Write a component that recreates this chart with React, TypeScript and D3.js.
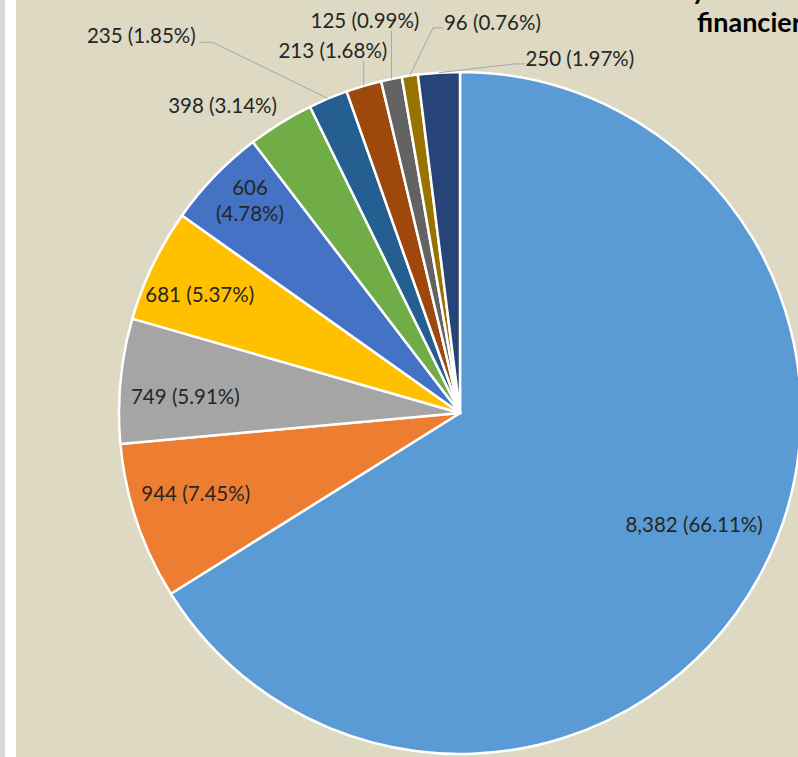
import React, { useEffect, useRef } from 'react';
import * as d3 from 'd3';

// slice values, clockwise from 12 o'clock
const values = [8382, 944, 749, 681, 606, 398, 235, 213, 125, 96, 250];
const percents = ['66.11%', '7.45%', '5.91%', '5.37%', '4.78%', '3.14%', '1.85%', '1.68%', '0.99%', '0.76%', '1.97%'];
const colors = [
  '#5B9BD5', '#ED7D31', '#A5A5A5', '#FFC000', '#4472C4', '#70AD47',
  '#255E91', '#9E480E', '#636363', '#997300', '#264478',
];

// label placement: radius factor and angle nudge (deg) from the slice middle
const labelRadius = [0.76, 0.81, 0.807, 0.839, 0.877, 1.14, 1.449, 1.128, 1.186, 1.151, 1.099];
const labelNudge = [-3.6, 1.7, -1.8, -1.2, 1.4, -5.9, -17.4, -2.9, -2.0, 13.2, 22.2];
// how the leader line leaves the label
const leader = ['', '', '', '', '', '', 'right', 'below', 'below', 'left', 'left'];

const W = 798;
const H = 757;

const App: React.FC = () => {
  const ref = useRef<SVGSVGElement>(null);

  useEffect(() => {
    if (!ref.current) return;
    const svg = d3.select(ref.current);
    svg.selectAll('*').remove();

    // frame
    svg.append('rect').attr('x', 0).attr('y', 0).attr('width', W).attr('height', H).attr('fill', '#fff');
    svg.append('rect').attr('x', 0).attr('y', 0).attr('width', 5).attr('height', H).attr('fill', '#d9d9d9');
    svg.append('rect').attr('x', 16).attr('y', 0).attr('width', W - 16).attr('height', H).attr('fill', '#DDD9C3');

    const cx = 460;
    const cy = 413;
    const R = 341;

    const pie = d3.pie<number>().sort(null).value((d) => d);
    const arcs = pie(values);
    const arc = d3.arc<d3.PieArcDatum<number>>().innerRadius(0).outerRadius(R);

    const g = svg.append('g').attr('transform', `translate(${cx},${cy})`);

    g.selectAll('path.slice')
      .data(arcs)
      .enter()
      .append('path')
      .attr('class', 'slice')
      .attr('d', arc)
      .attr('fill', (d, i) => colors[i])
      .attr('stroke', '#fff')
      .attr('stroke-width', 2.5)
      .attr('stroke-linejoin', 'round');

    const font = 'Lato, "Open Sans", sans-serif';
    const polar = (a: number, r: number): [number, number] => [Math.sin(a) * r, -Math.cos(a) * r];

    arcs.forEach((d, i) => {
      const mid = (d.startAngle + d.endAngle) / 2;
      const [lx, ly] = polar(mid + (labelNudge[i] * Math.PI) / 180, labelRadius[i] * R);
      const num = d3.format(',')(values[i]);
      const t = g
        .append('text')
        .attr('x', lx)
        .attr('y', ly)
        .attr('text-anchor', 'middle')
        .attr('dominant-baseline', 'central')
        .attr('font-family', font)
        .attr('font-size', 20.5)
        .attr('fill', '#262626');
      if (i === 4) {
        t.append('tspan').attr('x', lx).attr('dy', '-0.635em').text(num);
        t.append('tspan').attr('x', lx).attr('dy', '1.27em').text(`(${percents[i]})`);
      } else {
        t.text(`${num} (${percents[i]})`);
      }

      if (!leader[i]) return;
      const w = (t.node() as SVGTextElement).getComputedTextLength();
      const [ax, ay] = polar(mid, R);
      let pts: [number, number][] = [];
      if (leader[i] === 'right') {
        const sx = lx + w / 2 + 5;
        pts = [[sx, ly + 7], [sx + 12, ly + 7], [ax, ay]];
      } else if (leader[i] === 'left') {
        const sx = lx - w / 2 - 1;
        pts = [[sx, ly + 6], [sx - 10, ly + 6], [ax, ay]];
      } else {
        pts = [[ax, ly + 11], [ax, ay]];
      }
      g.append('path')
        .attr('d', d3.line()(pts))
        .attr('fill', 'none')
        .attr('stroke', '#a6a6a6')
        .attr('stroke-width', 1);
    });

    // title, mostly cut off by the frame
    const title = svg
      .append('text')
      .attr('font-family', font)
      .attr('font-weight', 'bold')
      .attr('font-size', 27)
      .attr('fill', '#000');
    title.append('tspan').attr('x', 706).attr('y', 0).attr('text-anchor', 'end').text('by');
    title.append('tspan').attr('x', 697).attr('y', 32).attr('text-anchor', 'start').text('financiers');
  }, []);

  return (
    <svg
      ref={ref}
      width={W}
      height={H}
      style={{ position: 'absolute', left: 0, top: 0, display: 'block' }}
    />
  );
};

export default App;
